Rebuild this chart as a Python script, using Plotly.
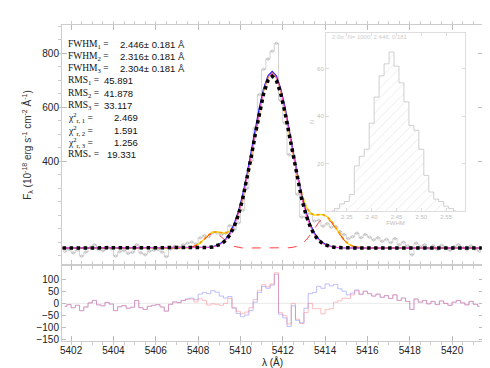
import numpy as np
import plotly.graph_objects as go

# observed spectrum, 0.2 A sampling from 5401.7 to 5421.3
wave = np.round(np.arange(5401.7, 5421.31, 0.2), 1)
flux = [66, 73, 60, 70, 48, 63, 80, 90, 72, 68, 82, 75, 48, 64, 69, 58, 62, 90, 60, 53, 66, 70,
        73, 63, 46, 74, 84, 81, 90, 96, 100, 93, 116,
        124, 120, 135, 134, 127, 133, 161, 147, 171, 218, 299, 401, 524, 647, 741, 779, 808, 837,
        626, 542, 424, 421, 277, 193, 193, 207, 178, 181, 159, 168, 155, 158, 139, 128, 113, 120,
        133, 116, 128, 118, 108, 116, 103, 110,
        98, 113, 90, 100, 86, 53, 96, 83, 90, 76, 86, 73, 88, 78, 70, 83, 90, 80, 72, 86, 74, 66]

# residuals (bottom panel)
res_single = [-12, -5, -18, -8, -30, -15, 2, 12, -6, -10, 4, -3, -30, -14, -9, -20, -16, 12, -18, -25, -12, -8,
              -5, -15, -32, -4, 6, 3, 12, 18, 22, 15, 38,
              45, 40, 52, 46, 30, 22, 28, -20, -42, -55, -48, -30, 5, 45, 70, 62, 75, 120, -45, -60,
              -95, -10, -70, -80, -20, 40, 45, 70, 62, 80, 72, 78, 60, 50, 35, 42, 55, 38, 50, 40,
              30, 38, 25, 32,
              20, 35, 12, 22, 8, -25, 18, 5, 12, -2, 8, -5, 10, 0, -8, 5, 12, 2, -6, 8, -4, -12]
res_multi = [-12, -5, -18, -8, -30, -15, 2, 12, -6, -10, 4, -3, -30, -14, -9, -20, -16, 12, -18, -25, -12, -8,
             -5, -15, -32, -4, 6, 3, 12,
             17, 18, 6, 19, 12, -7, -2, -4, -8, 0, 20, -17, -33, -43, -36, -18, 16, 54, 77, 68, 80, 126,
             -38, -51, -85, -1, -65, -83, -38, 0, -22, -21, -43, -26, -22, 5, 11, 21, 20, 35, 52, 37,
             50, 40, 30, 38, 25, 32,
             20, 35, 12, 22, 8, -25, 18, 5, 12, -2, 8, -5, 10, 0, -8, 5, 12, 2, -6, 8, -4, -12]

# fitted models, 0.2 A sampling 5406.1-5416.9 plus the two ends
wave_fit = np.concatenate([[5401.6], np.round(np.arange(5406.1, 5416.91, 0.2), 1), [5421.4]])
fit_1 = ([78] * 12 + [79, 80, 82, 86, 93, 106, 126, 157, 200, 258, 329, 412, 499, 583, 652, 699, 715,
                      699, 652, 583, 499, 412, 329, 258, 200, 157, 126, 106, 93, 86, 82, 80, 79] + [78] * 12)
fit_2 = ([78] * 12 + [79, 80, 83, 88, 97, 111, 133, 167, 213, 273, 347, 431, 519, 602, 671, 717, 733,
                      717, 671, 602, 519, 431, 347, 273, 213, 167, 133, 111, 97, 88, 83, 80, 79] + [78] * 12)
fit_3 = ([78] * 12 + [79, 80, 82, 86, 94, 107, 127, 158, 202, 261, 335, 419, 508, 593, 664, 711, 728,
                      711, 664, 593, 508, 419, 335, 261, 202, 158, 127, 107, 94, 86, 82, 80, 79] + [78] * 12)
comps = ([78] * 8 + [79, 82, 87, 97, 111, 125, 133, 130, 119, 104, 92, 84, 80] + [78] * 11
         + [79, 81, 85, 93, 107, 127, 151, 173, 186, 186, 173, 151, 127, 107, 93, 85, 81, 79] + [78] * 7)
fit_total = ([78] * 8 + [79, 82, 87, 97, 112, 127, 137, 138, 135, 133, 141, 164, 204, 261, 335, 419,
                         508, 593, 664, 711, 728, 711, 664, 593, 509, 422, 342, 276, 231, 207, 200,
                         202, 202, 194, 177, 153, 128, 107, 93, 85, 81, 79] + [78] * 7)

# inset histogram of FWHM
hist_x = [2.32, 2.33, 2.34, 2.35, 2.36, 2.37, 2.38, 2.39, 2.40, 2.41, 2.42, 2.43, 2.44, 2.45,
          2.46, 2.47, 2.48, 2.49, 2.50, 2.51, 2.52, 2.53, 2.54, 2.55, 2.56, 2.57]
hist_n = [0, 1, 3, 4, 7, 19, 23, 26, 37, 48, 57, 62, 67, 61, 54, 46, 36, 34, 26, 15, 8, 5, 4, 2, 1, 0]

labels = [
    ("FWHM<sub>1</sub> =", "2.446± 0.181 Å", 110),
    ("FWHM<sub>2</sub> =", "2.316± 0.181 Å", 110),
    ("FWHM<sub>3</sub> =", "2.304± 0.181 Å", 110),
    ("RMS<sub>1</sub> =", "45.891", 94),
    ("RMS<sub>2</sub> =", "41.878", 94),
    ("RMS<sub>3</sub> =", "33.117", 94),
    ("χ<sup>2</sup><sub>r, 1</sub> =", "2.469", 104),
    ("χ<sup>2</sup><sub>r, 2</sub> =", "1.591", 104),
    ("χ<sup>2</sup><sub>r, 3</sub> =", "1.256", 104),
    ("RMS<sub>*</sub> =", "19.331", 97),
]

W, H = 490, 368
ML, MR, MT, MB = 54, 15, 17, 35
pw, ph = W - ML - MR, H - MT - MB
split = (H - MB - 257) / ph

fig = go.Figure()

fig.add_trace(go.Scatter(x=wave, y=flux, mode="lines+markers", line_shape="hvh",
                         line=dict(color="#b4b4b4", width=0.6),
                         marker=dict(symbol="circle-open", size=2.5, color="#a0a0a0", line=dict(width=0.5)),
                         xaxis="x", yaxis="y"))
fig.add_trace(go.Scatter(x=wave_fit, y=fit_total, mode="lines", line=dict(color="#f2e000", width=1.3),
                         xaxis="x", yaxis="y"))
fig.add_trace(go.Scatter(x=wave_fit, y=fit_total, mode="lines", line=dict(color="#ff9900", width=1.8, dash="dot"),
                         xaxis="x", yaxis="y"))
fig.add_trace(go.Scatter(x=wave_fit, y=comps, mode="lines", line=dict(color="#ff4040", width=1, dash="dash"),
                         xaxis="x", yaxis="y"))
fig.add_trace(go.Scatter(x=wave_fit, y=fit_2, mode="lines", line=dict(color="#2020ff", width=1.2),
                         xaxis="x", yaxis="y"))
fig.add_trace(go.Scatter(x=wave_fit, y=fit_3, mode="lines", line=dict(color="#ff55cc", width=1),
                         xaxis="x", yaxis="y"))
fig.add_trace(go.Scatter(x=wave_fit, y=fit_1, mode="lines", line=dict(color="black", width=3.5, dash="dot"),
                         xaxis="x", yaxis="y"))

# residuals
fig.add_trace(go.Scatter(x=[5401.57, 5421.46], y=[0, 0], mode="lines", line=dict(color="#e4e4e4", width=0.8),
                         xaxis="x2", yaxis="y2"))
fig.add_trace(go.Scatter(x=wave, y=res_single, mode="lines", line_shape="hvh", opacity=0.45,
                         line=dict(color="#6060ff", width=0.9), xaxis="x2", yaxis="y2"))
fig.add_trace(go.Scatter(x=wave, y=res_multi, mode="lines", line_shape="hvh", opacity=0.45,
                         line=dict(color="#ff6060", width=0.9), xaxis="x2", yaxis="y2"))

# inset
fig.add_trace(go.Scatter(x=hist_x, y=hist_n, mode="lines", line_shape="hvh", fill="tozeroy",
                         fillcolor="rgba(0,0,0,0)",
                         fillpattern=dict(shape="/", fgcolor="#cfcfcf", bgcolor="rgba(255,255,255,0)", size=7, solidity=0.12),
                         line=dict(color="#c4c4c4", width=0.8), xaxis="x3", yaxis="y3"))

font_ax = dict(family="Liberation Sans", size=10, color="#222")
common = dict(showline=True, linecolor="#cccccc", linewidth=1, mirror="allticks", ticks="inside",
              tickcolor="#bbbbbb", ticklen=5, showgrid=False, zeroline=False, tickfont=font_ax)
xr = [5401.57, 5421.46]

fig.update_layout(
    width=W, height=H, margin=dict(l=ML, r=MR, t=MT, b=MB),
    paper_bgcolor="white", plot_bgcolor="white", showlegend=False,
    xaxis=dict(domain=[0, 1], anchor="y", range=xr, tick0=5402, dtick=2, showticklabels=False,
               minor=dict(ticklen=3, dtick=0.5, tickcolor="#cccccc"), **common),
    yaxis=dict(domain=[split, 1], anchor="x", range=[15, 905], tickvals=[400, 600, 800],
               minor=dict(ticklen=3, dtick=50, tickcolor="#cccccc"),
               title=dict(text="F<sub>λ</sub> (10<sup>-18</sup> erg s<sup>-1</sup> cm<sup>-2</sup> Å<sup>-1</sup>)",
                          font=dict(family="Liberation Sans", size=10, color="#333"), standoff=8),
               **common),
    xaxis2=dict(domain=[0, 1], anchor="y2", range=xr, tick0=5402, dtick=2,
                minor=dict(ticklen=3, dtick=0.5, tickcolor="#cccccc"),
                title=dict(text="λ (Å)", font=dict(family="Liberation Sans", size=10, color="#222"), standoff=2),
                **common),
    yaxis2=dict(domain=[0, split], anchor="x2", range=[-155, 158],
                tickvals=[-150, -100, -50, 0, 50, 100], ticklen=4,
                **{k: v for k, v in common.items() if k != "ticklen"}),
    xaxis3=dict(domain=[(318 - ML) / pw, (457 - ML) / pw], anchor="y3", range=[2.308, 2.588],
                tickvals=[2.35, 2.40, 2.45, 2.50, 2.55], ticktext=["2.35", "2.40", "2.45", "2.50", "2.55"],
                showline=True, linecolor="#dddddd", mirror="allticks", ticks="inside", ticklen=3,
                tickcolor="#dddddd", showgrid=False, zeroline=False,
                tickfont=dict(family="Liberation Sans", size=6, color="#c0c0c0"),
                title=dict(text="FWHM", font=dict(family="Liberation Sans", size=6, color="#c0c0c0"), standoff=0)),
    yaxis3=dict(domain=[(H - MB - 203) / ph, (H - MB - 25) / ph], anchor="x3", range=[0, 75],
                tickvals=[20, 40, 60], showline=True, linecolor="#dddddd", mirror="allticks",
                ticks="inside", ticklen=3, tickcolor="#dddddd", showgrid=False, zeroline=False,
                tickfont=dict(family="Liberation Sans", size=6, color="#c0c0c0"),
                title=dict(text="N", font=dict(family="Liberation Sans", size=6, color="#c8c8c8"), standoff=2)),
)


def px_x(p):
    return (p - ML) / pw


def px_y(p):
    return (H - MB - p) / ph


ann = []
for i, (lab, val, vx) in enumerate(labels):
    yy = 36 + i * 12.3
    ann.append(dict(x=px_x(58), y=px_y(yy), xref="paper", yref="paper", text=lab, showarrow=False,
                    xanchor="left", yanchor="middle",
                    font=dict(family="Liberation Serif", size=9.5, color="#111")))
    ann.append(dict(x=px_x(vx), y=px_y(yy), xref="paper", yref="paper", text=val, showarrow=False,
                    xanchor="left", yanchor="middle",
                    font=dict(family="Liberation Sans", size=9.5, color="#111")))
ann.append(dict(x=px_x(322), y=px_y(29), xref="paper", yref="paper",
                text="2.0σ: N= 1000, 2.446, 0.181", showarrow=False, xanchor="left", yanchor="middle",
                font=dict(family="Liberation Sans", size=6, color="#cccccc")))
fig.update_layout(annotations=ann)

fig.write_html("out.html")
